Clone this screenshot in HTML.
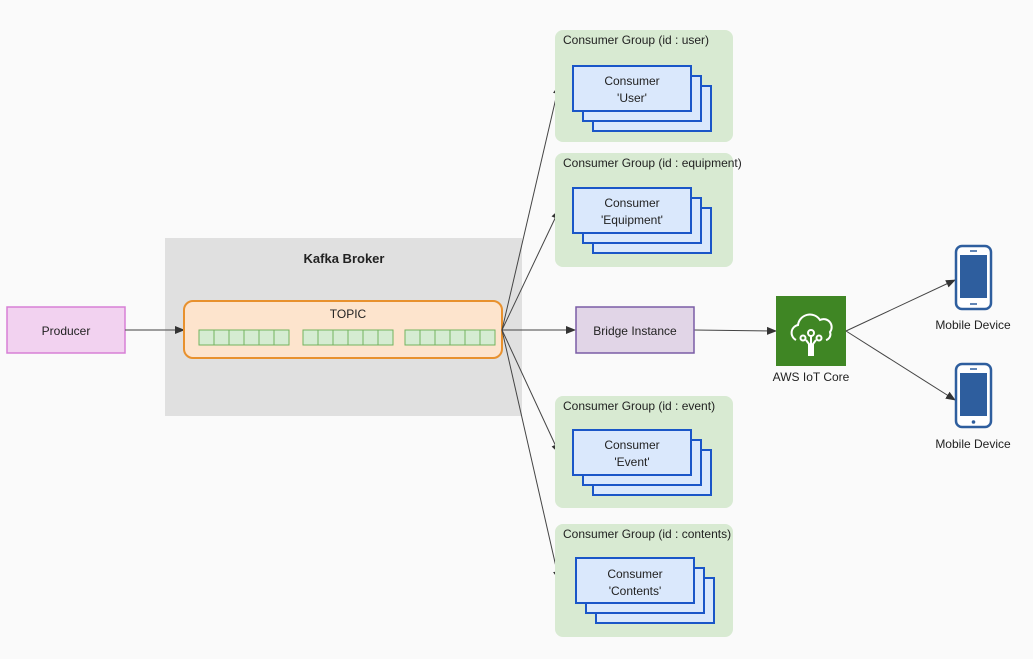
<!DOCTYPE html>
<html><head><meta charset="utf-8"><style>
html,body{margin:0;padding:0;background:#fafafa;}
svg{display:block;font-family:"Liberation Sans","Noto Sans CJK KR",sans-serif;}
</style></head><body>
<svg width="1033" height="659" viewBox="0 0 1033 659" xmlns="http://www.w3.org/2000/svg">
<defs>
<marker id="a" markerWidth="10" markerHeight="10" refX="9" refY="5" orient="auto" markerUnits="userSpaceOnUse"><path d="M0,1 L10,5 L0,9 Z" fill="#333"/></marker>
</defs>
<rect width="1033" height="659" fill="#fafafa"/>
<!-- Kafka broker -->
<rect x="165" y="238" width="357" height="178" fill="#e0e0e0"/>
<text x="344" y="263" font-size="13" font-weight="bold" text-anchor="middle" fill="#222">Kafka Broker</text>
<!-- Producer -->
<rect x="7" y="307" width="118" height="46" fill="#f2d2f0" stroke="#d77fd6" stroke-width="1.5"/>
<text x="66" y="335" font-size="12" text-anchor="middle" fill="#222">Producer</text>
<line x1="125" y1="330" x2="184" y2="330" stroke="#666" stroke-width="1.3" marker-end="url(#a)"/>
<!-- Topic -->
<rect x="184" y="301" width="318" height="57" rx="9" fill="#fde4cd" stroke="#e8912e" stroke-width="2"/>
<text x="348" y="318" font-size="12" text-anchor="middle" fill="#222">TOPIC</text>
<g fill="#d5ecd2" stroke="#72b35f" stroke-width="1">
<rect x="199" y="330" width="90" height="15"/><rect x="303" y="330" width="90" height="15"/><rect x="405" y="330" width="90" height="15"/>
</g>
<g stroke="#72b35f" stroke-width="1">
<path d="M214 330v15M229 330v15M244 330v15M259 330v15M274 330v15M318 330v15M333 330v15M348 330v15M363 330v15M378 330v15M420 330v15M435 330v15M450 330v15M465 330v15M480 330v15"/>
</g>
<!-- connectors -->
<g stroke="#444" stroke-width="1" fill="none" marker-end="url(#a)">
<line x1="502" y1="330" x2="559" y2="85"/>
<line x1="502" y1="330" x2="559" y2="210"/>
<line x1="502" y1="330" x2="575" y2="330"/>
<line x1="502" y1="330" x2="559" y2="453"/>
<line x1="502" y1="330" x2="559" y2="580"/>
<line x1="694" y1="330" x2="776" y2="331"/>
<line x1="846" y1="331" x2="955" y2="280"/>
<line x1="846" y1="331" x2="955" y2="400"/>
</g>
<!-- consumer groups -->
<g fill="#d8eAd2">
<rect x="555" y="30" width="178" height="112" rx="8"/>
<rect x="555" y="153" width="178" height="114" rx="8"/>
<rect x="555" y="396" width="178" height="112" rx="8"/>
<rect x="555" y="524" width="178" height="113" rx="8"/>
</g>
<g font-size="12" fill="#222">
<text x="563" y="44">Consumer Group (id : user)</text>
<text x="563" y="167">Consumer Group (id : equipment)</text>
<text x="563" y="410">Consumer Group (id : event)</text>
<text x="563" y="538">Consumer Group (id : contents)</text>
</g>
<g fill="#dae8fc" stroke="#1a56c8" stroke-width="2">
<rect x="593" y="86" width="118" height="45"/><rect x="583" y="76" width="118" height="45"/><rect x="573" y="66" width="118" height="45"/>
<rect x="593" y="208" width="118" height="45"/><rect x="583" y="198" width="118" height="45"/><rect x="573" y="188" width="118" height="45"/>
<rect x="593" y="450" width="118" height="45"/><rect x="583" y="440" width="118" height="45"/><rect x="573" y="430" width="118" height="45"/>
<rect x="596" y="578" width="118" height="45"/><rect x="586" y="568" width="118" height="45"/><rect x="576" y="558" width="118" height="45"/>
</g>
<g font-size="12" fill="#222" text-anchor="middle">
<text x="632" y="85">Consumer</text><text x="632" y="102">'User'</text>
<text x="632" y="207">Consumer</text><text x="632" y="224">'Equipment'</text>
<text x="632" y="449">Consumer</text><text x="632" y="466">'Event'</text>
<text x="635" y="578">Consumer</text><text x="635" y="595">'Contents'</text>
</g>
<!-- Bridge -->
<rect x="576" y="307" width="118" height="46" fill="#e1d5e7" stroke="#7a5ca6" stroke-width="1.5"/>
<text x="635" y="335" font-size="12" text-anchor="middle" fill="#222">Bridge Instance</text>
<!-- AWS IoT -->
<rect x="776" y="296" width="70" height="70" fill="#3f8624"/>
<g stroke="#fff" stroke-width="2" fill="none">
<path d="M796 340 a8 8 0 0 1 2-15 a12 12 0 0 1 22-5 a8 8 0 0 1 10 12 a6 6 0 0 1-4 8"/>
<circle cx="811" cy="333" r="3"/><circle cx="803" cy="338" r="2.5"/><circle cx="819" cy="338" r="2.5"/>
<path d="M811 336v20M806 340l3 4v12M816 340l-3 4v12"/>
</g>
<text x="811" y="381" font-size="12" text-anchor="middle" fill="#222">AWS IoT Core</text>
<!-- phones -->
<g>
<rect x="956" y="246" width="35" height="63" rx="6" fill="#fff" stroke="#2e5e9e" stroke-width="2.5"/>
<rect x="960" y="255" width="27" height="43" fill="#2e5e9e"/>
<line x1="970" y1="251" x2="977" y2="251" stroke="#2e5e9e" stroke-width="1.5"/>
<line x1="970" y1="304" x2="977" y2="304" stroke="#2e5e9e" stroke-width="1.5"/>
<rect x="956" y="364" width="35" height="63" rx="6" fill="#fff" stroke="#2e5e9e" stroke-width="2.5"/>
<rect x="960" y="373" width="27" height="43" fill="#2e5e9e"/>
<line x1="970" y1="369" x2="977" y2="369" stroke="#2e5e9e" stroke-width="1.5"/>
<circle cx="973.5" cy="422" r="1.8" fill="#2e5e9e"/>
</g>
<text x="973" y="329" font-size="12" text-anchor="middle" fill="#222">Mobile Device</text>
<text x="973" y="448" font-size="12" text-anchor="middle" fill="#222">Mobile Device</text>
</svg>
</body></html>
